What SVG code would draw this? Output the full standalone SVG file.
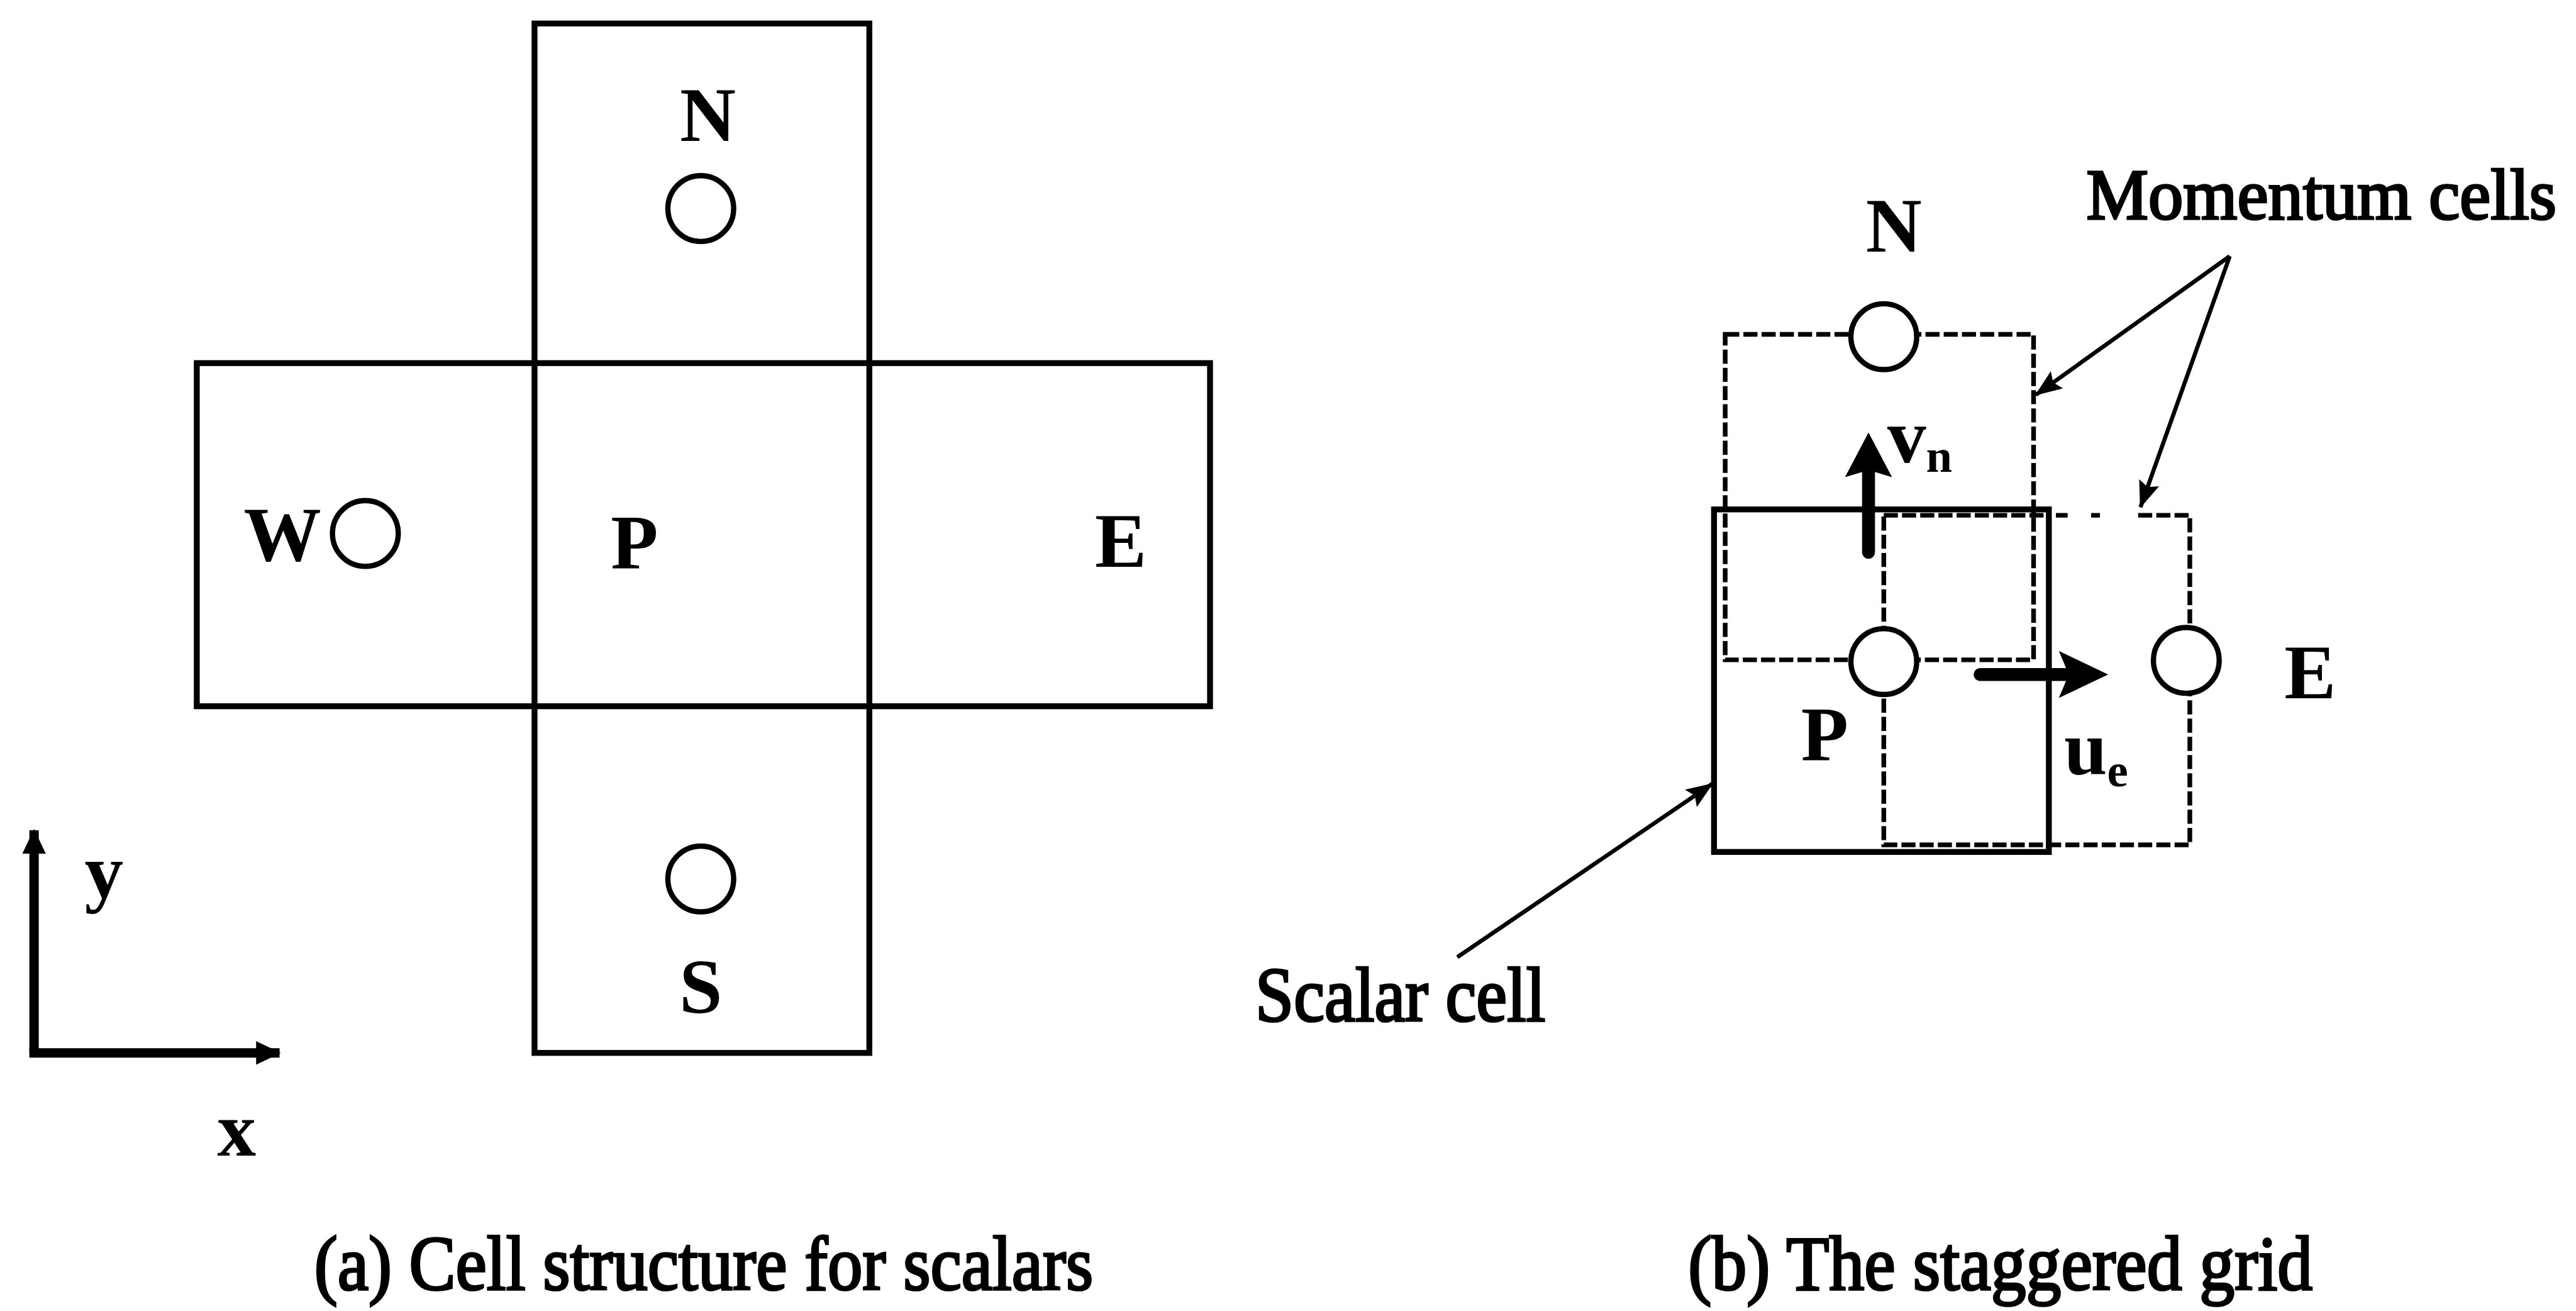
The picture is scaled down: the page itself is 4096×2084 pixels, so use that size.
<svg xmlns="http://www.w3.org/2000/svg" width="4096" height="2084" viewBox="0 0 4096 2084">
<style>
.solid{fill:none;stroke:#000;stroke-width:10;stroke-linejoin:miter}
.dash{fill:none;stroke:#000;stroke-width:8;stroke-dasharray:24 7}
.node{fill:#fff;stroke:#000;stroke-width:9}
.lbl{font-family:"Liberation Serif","Times New Roman",serif;font-weight:bold;font-size:132px;fill:#000}
.sub{font-family:"Liberation Serif","Times New Roman",serif;font-weight:bold;font-size:80px;fill:#000}
.txt{font-family:"Liberation Serif","Times New Roman",serif;font-size:132px;fill:#000;stroke:#000;stroke-width:4}
.cap{font-family:"Liberation Serif","Times New Roman",serif;font-size:132px;fill:#000;stroke:#000;stroke-width:4}
.lead{fill:none;stroke:#000;stroke-width:7}
.axis{fill:none;stroke:#000;stroke-width:16}
.thick{fill:none;stroke:#000;stroke-width:22;stroke-linecap:round}
</style>
<defs>
<marker id="ah" markerUnits="userSpaceOnUse" markerWidth="48" markerHeight="40" refX="44" refY="18" orient="auto">
<path d="M0,0 L46,18 L0,36 L8,18 Z" fill="#000"/>
</marker>
<marker id="axh" markerUnits="userSpaceOnUse" markerWidth="46" markerHeight="44" refX="40" refY="20" orient="auto">
<path d="M0,0 L42,20 L0,40 Z" fill="#000"/>
</marker>
</defs>
<rect width="4096" height="2084" fill="#fff"/>
<g transform="scale(0.934)">
<!-- Panel (a) -->
<g id="a-cells">
<rect id="a-column" class="solid" x="910" y="40" width="570" height="1752"/>
<rect id="a-row" class="solid" x="335" y="618" width="1725" height="584"/>
</g>
<g id="a-N"><text class="lbl" x="1205" y="240" text-anchor="middle">N</text><circle class="node" cx="1193" cy="355" r="56"/></g>
<g id="a-W"><text class="lbl" x="415" y="954">W</text><circle class="node" cx="622" cy="908" r="56"/></g>
<g id="a-P"><text class="lbl" x="1040" y="968">P</text></g>
<g id="a-E"><text class="lbl" x="1864" y="965">E</text></g>
<g id="a-S"><circle class="node" cx="1193" cy="1496" r="56"/><text class="lbl" x="1193" y="1724" text-anchor="middle">S</text></g>
<g id="a-axes">
<path class="axis" d="M58,1792 L58,1413" marker-end="url(#axh)"/>
<path class="axis" d="M50,1792 L476,1792" marker-end="url(#axh)"/>
<text class="lbl" x="144" y="1528">y</text>
<text class="lbl" x="370" y="1967">x</text>
</g>
<text id="cap-a" class="cap" x="535" y="2195" textLength="1326" lengthAdjust="spacingAndGlyphs">(a) Cell structure for scalars</text>

<!-- Panel (b) -->
<g id="b-scalar-cell"><rect class="solid" x="2918" y="867" width="570" height="583"/></g>
<g id="b-v-cell"><rect class="dash" x="2937" y="569" width="525" height="554"/></g>
<g id="b-u-cell">
<path class="dash" d="M3207,877 L3488,877"/>
<path class="dash" d="M3500,877 L3520,877 M3560,877 L3575,877 M3640,877 L3728,877 L3728,1438 L3207,1438 L3207,877"/>
</g>
<g id="b-N"><text class="lbl" x="3224" y="428" text-anchor="middle">N</text><circle class="node" cx="3207" cy="573" r="56"/></g>
<g id="b-P"><circle class="node" cx="3207" cy="1126" r="56"/><text class="lbl" x="3066" y="1294">P</text></g>
<g id="b-E"><circle class="node" cx="3722" cy="1124" r="56"/><text class="lbl" x="3889" y="1188">E</text></g>
<g id="b-vn">
<path class="thick" d="M3181,940 L3181,800"/>
<path d="M3181,736 L3221,812 L3181,800 L3141,812 Z" fill="#000"/>
<text class="lbl" x="3213" y="787">v<tspan class="sub" dy="16">n</tspan></text>
</g>
<g id="b-ue">
<path class="thick" d="M3371,1148 L3520,1148"/>
<path d="M3589,1148 L3505,1108 L3522,1148 L3505,1188 Z" fill="#000"/>
<text class="lbl" x="3514" y="1318">u<tspan class="sub" dy="20">e</tspan></text>
</g>
<text id="lbl-momentum" class="txt" x="3552" y="373" style="font-size:122px" textLength="800" lengthAdjust="spacingAndGlyphs">Momentum cells</text>
<text id="lbl-scalar" class="txt" x="2137" y="1738" textLength="494" lengthAdjust="spacingAndGlyphs">Scalar cell</text>
<text id="cap-b" class="cap" x="2874" y="2195" textLength="1063" lengthAdjust="spacingAndGlyphs">(b) The staggered grid</text>

<g id="connectors">
<path class="lead" d="M3796,436 L3466,672" marker-end="url(#ah)"/>
<path class="lead" d="M3796,436 L3644,863" marker-end="url(#ah)"/>
<path class="lead" d="M2481,1629 L2915,1334" marker-end="url(#ah)"/>
</g>
</g>
</svg>
